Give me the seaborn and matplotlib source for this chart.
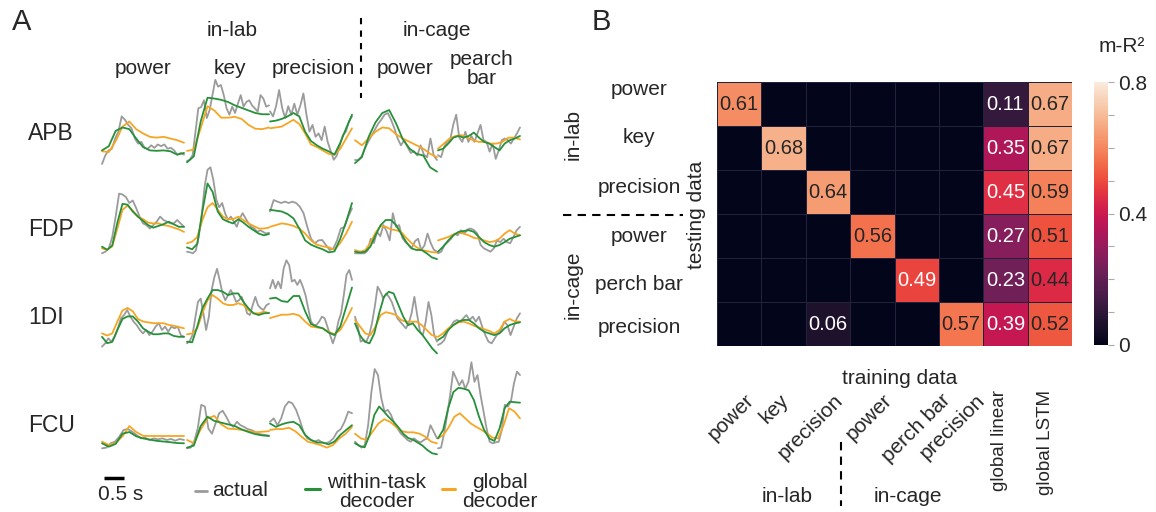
import matplotlib
matplotlib.use('Agg')
import matplotlib.pyplot as plt
from matplotlib.ticker import MultipleLocator
import numpy as np
import pandas as pd
import seaborn as sns

# Panel A: trazas normalizadas (0 = base de la fila, 1 = altura de la fila)
# orden de tareas: power, key, precision (in-lab), power, pearch bar (in-cage)
muscles = ['APB', 'FDP', '1DI', 'FCU']
tasks = ['power', 'key', 'precision', 'power', 'pearch\nbar']

apb_actual = [
    [0.0, 0.1, 0.16, 0.18, 0.3, 0.38, 0.56, 0.52, 0.46, 0.42, 0.3, 0.24, 0.26, 0.19, 0.18, 0.22, 0.19, 0.23, 0.21, 0.23, 0.18, 0.19, 0.16, 0.11, 0.13, 0.11],
    [0.035, 0.05, 0.105, 0.38, 0.655, 0.67, 0.75, 0.54, 0.635, 0.81, 0.99, 0.91, 0.93, 0.81, 0.655, 0.58, 0.675, 0.6, 0.71, 0.81, 0.675, 0.73, 0.75, 0.69, 0.655, 0.616, 0.81, 0.77, 0.675, 0.69],
    [0.62, 0.56, 0.68, 0.87, 0.66, 0.54, 0.68, 0.58, 0.71, 0.58, 0.69, 0.83, 0.58, 0.38, 0.46, 0.32, 0.36, 0.28, 0.44, 0.26, 0.15, 0.05, 0.1, 0.22, 0.34, 0.38, 0.5, 0.56],
    [0.047, 0.047, 0.09, 0.18, 0.26, 0.33, 0.4, 0.47, 0.52, 0.58, 0.6, 0.52, 0.42, 0.3, 0.22, 0.28, 0.2, 0.13, 0.15, 0.1, 0.22, 0.11, 0.08, 0.3, 0.1, 0.047],
    [0.105, 0.08, 0.2, 0.26, 0.28, 0.46, 0.58, 0.31, 0.26, 0.38, 0.26, 0.33, 0.26, 0.36, 0.46, 0.28, 0.26, 0.145, 0.24, 0.06, 0.16, 0.28, 0.3, 0.28, 0.24, 0.3, 0.36, 0.43],
]
apb_within = [
    [0.16, 0.21, 0.39, 0.43, 0.41, 0.3, 0.2, 0.16, 0.155, 0.16, 0.15, 0.11, 0.13],
    [0.02, 0.09, 0.5, 0.78, 0.77, 0.755, 0.73, 0.69, 0.66, 0.63, 0.6, 0.585, 0.585],
    [0.5, 0.51, 0.53, 0.56, 0.6, 0.56, 0.38, 0.27, 0.22, 0.18, 0.15, 0.11, 0.25, 0.42, 0.58],
    [0.01, 0.08, 0.32, 0.49, 0.6, 0.635, 0.48, 0.29, 0.18, 0.12, 0.1, -0.04, -0.09],
    [0.16, 0.18, 0.24, 0.31, 0.33, 0.31, 0.33, 0.37, 0.31, 0.26, 0.24, 0.2, 0.16, 0.24, 0.28, 0.3, 0.33],
]
apb_global = [
    [0.15, 0.14, 0.27, 0.44, 0.5, 0.41, 0.36, 0.32, 0.31, 0.32, 0.3, 0.28, 0.25],
    [0.154, 0.17, 0.42, 0.68, 0.63, 0.545, 0.545, 0.555, 0.53, 0.46, 0.415, 0.41, 0.43],
    [0.42, 0.43, 0.44, 0.48, 0.52, 0.47, 0.36, 0.23, 0.2, 0.16, 0.12, 0.11, 0.18, 0.3, 0.42],
    [0.28, 0.22, 0.3, 0.38, 0.43, 0.42, 0.35, 0.3, 0.26, 0.22, 0.18, 0.12, 0.08],
    [0.18, 0.24, 0.3, 0.33, 0.34, 0.31, 0.28, 0.26, 0.26, 0.24, 0.24, 0.26, 0.31, 0.31, 0.29],
]

fdp_actual = [
    [0.008, 0.027, 0.066, 0.2, 0.44, 0.71, 0.7, 0.67, 0.6, 0.63, 0.54, 0.44, 0.36, 0.34, 0.3, 0.34, 0.38, 0.44, 0.4, 0.38, 0.36, 0.36, 0.4, 0.36, 0.32],
    [0.027, 0.02, 0.008, 0.04, 0.2, 0.45, 0.79, 0.99, 1.02, 0.87, 0.64, 0.55, 0.6, 0.48, 0.4, 0.44, 0.38, 0.32, 0.42, 0.48, 0.42, 0.36, 0.32, 0.3, 0.26, 0.28, 0.26, 0.24, 0.25],
    [0.5, 0.635, 0.616, 0.6, 0.616, 0.6, 0.616, 0.6, 0.557, 0.48, 0.32, 0.18, 0.126, 0.16, 0.165, 0.106, 0.047, 0.066, 0.16, 0.3, 0.32, 0.44, 0.537],
    [0.008, 0.008, 0.008, 0.008, 0.04, 0.18, 0.13, 0.26, 0.21, 0.34, 0.27, 0.16, 0.48, 0.32, 0.34, 0.19, 0.14, 0.106, 0.07, 0.15, 0.18, 0.047, 0.1, 0.24, 0.13, 0.05, 0.027],
    [0.008, 0.027, 0.106, 0.14, 0.18, 0.24, 0.22, 0.28, 0.24, 0.29, 0.3, 0.28, 0.24, 0.106, 0.066, 0.047, 0.027, 0.066, 0.16, 0.14, 0.18, 0.14, 0.126, 0.2, 0.28, 0.32],
]
fdp_within = [
    [0.086, 0.05, 0.1, 0.37, 0.59, 0.58, 0.5, 0.44, 0.39, 0.34, 0.31, 0.33, 0.35, 0.38, 0.35, 0.32, 0.32],
    [0.078, 0.055, 0.12, 0.5, 0.83, 0.73, 0.5, 0.41, 0.38, 0.36, 0.41, 0.37, 0.32, 0.28, 0.24, 0.22, 0.235],
    [0.52, 0.51, 0.5, 0.47, 0.42, 0.3, 0.16, 0.11, 0.08, 0.055, 0.02, 0.03, 0.18, 0.38, 0.6],
    [0.027, 0.016, 0.027, 0.086, 0.22, 0.34, 0.4, 0.4, 0.34, 0.24, 0.14, 0.066, 0.047, 0.047, 0.008, -0.04, -0.06],
    [0.027, 0.086, 0.16, 0.22, 0.26, 0.27, 0.28, 0.26, 0.2, 0.14, 0.106, 0.086, 0.106, 0.14, 0.18, 0.2, 0.22],
]
fdp_global = [
    [0.066, 0.05, 0.09, 0.3, 0.52, 0.57, 0.51, 0.44, 0.41, 0.37, 0.36, 0.36, 0.34, 0.33, 0.31, 0.29, 0.26],
    [0.126, 0.145, 0.2, 0.4, 0.55, 0.6, 0.52, 0.44, 0.41, 0.41, 0.44, 0.4, 0.36, 0.33, 0.3, 0.3, 0.31],
    [0.32, 0.34, 0.36, 0.35, 0.33, 0.3, 0.24, 0.16, 0.11, 0.09, 0.08, 0.05, 0.13, 0.24, 0.38],
    [0.047, 0.027, 0.045, 0.13, 0.25, 0.33, 0.32, 0.29, 0.28, 0.26, 0.19, 0.13, 0.08, 0.047, 0.035, 0.022, 0.016],
    [0.16, 0.18, 0.2, 0.23, 0.25, 0.24, 0.22, 0.19, 0.18, 0.16, 0.14, 0.15, 0.18, 0.24, 0.28, 0.24, 0.22],
]

di_actual = [
    [0.004, 0.043, 0.102, 0.063, 0.12, 0.22, 0.337, 0.376, 0.435, 0.357, 0.298, 0.258, 0.2, 0.16, 0.2, 0.14, 0.18, 0.24, 0.28, 0.2, 0.24, 0.18, 0.24, 0.22, 0.24, 0.14, 0.12],
    [0.043, 0.07, 0.14, 0.337, 0.53, 0.57, 0.396, 0.2, 0.357, 0.67, 0.82, 0.92, 0.78, 0.63, 0.55, 0.61, 0.67, 0.61, 0.53, 0.55, 0.59, 0.51, 0.396, 0.376, 0.49, 0.59, 0.49, 0.455, 0.435, 0.49, 0.51],
    [0.69, 0.79, 0.69, 0.77, 0.69, 0.925, 1.02, 0.965, 0.77, 0.79, 0.73, 0.79, 0.71, 0.61, 0.45, 0.3, 0.26, 0.26, 0.3, 0.357, 0.337, 0.24, 0.14, 0.043, 0.14, 0.298, 0.396, 0.61, 0.85, 0.906, 0.79],
    [0.357, 0.24, 0.063, 0.082, 0.063, 0.14, 0.278, 0.475, 0.71, 0.65, 0.57, 0.63, 0.59, 0.53, 0.435, 0.337, 0.298, 0.258, 0.22, 0.278, 0.396, 0.59, 0.376, 0.18, 0.14, 0.298, 0.53, 0.376, 0.14, 0.063],
    [0.024, 0.043, 0.082, 0.18, 0.24, 0.298, 0.318, 0.298, 0.337, 0.376, 0.318, 0.357, 0.298, 0.357, 0.24, 0.14, 0.063, 0.043, 0.102, 0.16, 0.2, 0.298, 0.258, 0.14, 0.24, 0.337, 0.396],
]
di_within = [
    [0.12, 0.045, 0.06, 0.2, 0.33, 0.36, 0.36, 0.3, 0.22, 0.18, 0.15, 0.15, 0.16, 0.16, 0.13, 0.12, 0.12],
    [0.063, 0.055, 0.24, 0.455, 0.57, 0.67, 0.67, 0.65, 0.61, 0.63, 0.63, 0.53, 0.455, 0.396, 0.376, 0.396, 0.4],
    [0.57, 0.58, 0.54, 0.53, 0.6, 0.6, 0.42, 0.27, 0.24, 0.22, 0.17, 0.14, 0.24, 0.47, 0.7],
    [0.278, 0.14, 0.063, 0.043, 0.16, 0.396, 0.59, 0.65, 0.63, 0.494, 0.357, 0.258, 0.278, 0.2, 0.14, 0.063, -0.016, -0.075],
    [0.082, 0.12, 0.2, 0.258, 0.298, 0.318, 0.318, 0.278, 0.22, 0.18, 0.16, 0.14, 0.16, 0.22, 0.258, 0.278, 0.29],
]
di_global = [
    [0.16, 0.135, 0.16, 0.3, 0.43, 0.46, 0.42, 0.33, 0.3, 0.29, 0.28, 0.28, 0.28, 0.26, 0.25, 0.235, 0.22],
    [0.149, 0.16, 0.22, 0.396, 0.55, 0.61, 0.57, 0.514, 0.494, 0.494, 0.514, 0.494, 0.435, 0.396, 0.396, 0.416, 0.4],
    [0.34, 0.36, 0.38, 0.38, 0.39, 0.37, 0.3, 0.24, 0.23, 0.22, 0.18, 0.15, 0.2, 0.32, 0.46],
    [0.318, 0.24, 0.16, 0.14, 0.24, 0.376, 0.41, 0.396, 0.376, 0.318, 0.298, 0.298, 0.298, 0.258, 0.2, 0.14, 0.12],
    [0.12, 0.16, 0.22, 0.258, 0.29, 0.298, 0.278, 0.25, 0.23, 0.21, 0.19, 0.16, 0.2, 0.298, 0.33, 0.3, 0.298],
]

fcu_actual = [
    [0.008, 0.016, 0.067, 0.086, 0.145, 0.224, 0.235, 0.204, 0.165, 0.125, 0.133, 0.106, 0.125, 0.114, 0.125, 0.106, 0.118, 0.098, 0.118, 0.106],
    [0.008, 0.016, 0.086, 0.24, 0.52, 0.5, 0.24, 0.18, 0.3, 0.42, 0.45, 0.38, 0.3, 0.26, 0.32, 0.28, 0.26, 0.235, 0.224, 0.204, 0.18, 0.17, 0.165, 0.157],
    [0.32, 0.36, 0.28, 0.36, 0.5, 0.557, 0.537, 0.46, 0.34, 0.2, 0.125, 0.106, 0.086, 0.106, 0.078, 0.067, 0.086, 0.125, 0.2, 0.235, 0.32, 0.44, 0.42],
    [0.086, 0.047, 0.016, 0.047, 0.28, 0.67, 0.94, 0.87, 0.6, 0.44, 0.46, 0.4, 0.3, 0.24, 0.18, 0.145, 0.106, 0.086, 0.125, 0.094, 0.078, 0.106, 0.125, 0.28, 0.204, 0.125],
    [0.008, 0.016, 0.18, 0.4, 0.635, 0.91, 0.83, 0.75, 0.81, 0.71, 0.79, 1.02, 0.79, 0.87, 0.635, 0.44, 0.24, 0.086, 0.067, 0.078, 0.086, 0.224, 0.52, 0.5, 0.557, 0.77, 0.91, 0.87],
]
fcu_within = [
    [0.067, 0.027, 0.06, 0.18, 0.2, 0.15, 0.125, 0.11, 0.096, 0.088, 0.08, 0.07, 0.067],
    [0.016, 0.04, 0.27, 0.38, 0.33, 0.31, 0.29, 0.27, 0.23, 0.2, 0.175, 0.16, 0.153],
    [0.3, 0.26, 0.29, 0.31, 0.32, 0.28, 0.165, 0.106, 0.078, 0.075, 0.055, 0.086, 0.165, 0.224, 0.28],
    [0.067, 0.035, 0.02, 0.16, 0.4, 0.5, 0.44, 0.375, 0.32, 0.255, 0.18, 0.13, 0.11, 0.075, 0.04, -0.012, -0.05, -0.063],
    [0.125, 0.224, 0.48, 0.67, 0.72, 0.71, 0.69, 0.576, 0.38, 0.224, 0.125, 0.094, 0.24, 0.48, 0.557, 0.55, 0.545],
]
fcu_global = [
    [0.086, 0.047, 0.07, 0.15, 0.27, 0.2, 0.155, 0.153, 0.153, 0.153, 0.153, 0.153, 0.153],
    [0.106, 0.07, 0.23, 0.36, 0.39, 0.29, 0.24, 0.235, 0.226, 0.21, 0.198, 0.203, 0.21],
    [0.224, 0.235, 0.235, 0.25, 0.21, 0.145, 0.086, 0.067, 0.047, 0.016, 0.047, 0.125, 0.18, 0.26],
    [0.18, 0.125, 0.106, 0.204, 0.3, 0.35, 0.32, 0.26, 0.21, 0.196, 0.196, 0.18, 0.145, 0.086, 0.067],
    [0.125, 0.165, 0.26, 0.38, 0.42, 0.36, 0.3, 0.26, 0.224, 0.18, 0.133, 0.125, 0.28, 0.48, 0.44, 0.36],
]

# Panel B: m-R2 (filas = testing data, columnas = training data)
test_labels = ['power', 'key', 'precision', 'power', 'perch bar', 'precision']
train_labels = ['power', 'key', 'precision', 'power', 'perch bar', 'precision',
                'global linear', 'global LSTM']
mr2 = [
    [0.61, 0, 0, 0, 0, 0, 0.11, 0.67],
    [0, 0.68, 0, 0, 0, 0, 0.35, 0.67],
    [0, 0, 0.64, 0, 0, 0, 0.45, 0.59],
    [0, 0, 0, 0.56, 0, 0, 0.27, 0.51],
    [0, 0, 0, 0, 0.49, 0, 0.23, 0.44],
    [0, 0, 0.06, 0, 0, 0.57, 0.39, 0.52],
]

# Estilo
sns.set_theme(style='white')
plt.rcParams['font.family'] = ['Liberation Sans', 'DejaVu Sans']
FS = 15
C_ACT, C_WIT, C_GLO = '#9b9b9b', '#27903a', '#f6a623'

W, H = 1156, 512
fig = plt.figure(figsize=(W / 100, H / 100), dpi=100)

# eje de fondo en pixeles para el panel A y los textos
ax = fig.add_axes([0, 0, 1, 1])

SEG_X = [102, 187, 270, 355, 438]
SEG_W = 82
ROW_BASE = [164, 254, 347, 449]
ROW_H = 85

frames = []
per_muscle = [(apb_actual, apb_within, apb_global), (fdp_actual, fdp_within, fdp_global),
              (di_actual, di_within, di_global), (fcu_actual, fcu_within, fcu_global)]
for m, (act, wit, glo) in enumerate(per_muscle):
    for name, segs in [('actual', act), ('global', glo), ('within', wit)]:
        for k, vals in enumerate(segs):
            v = np.asarray(vals)
            frames.append(pd.DataFrame({
                'x': SEG_X[k] + np.linspace(0, SEG_W, len(v)),
                'y': ROW_BASE[m] - v * ROW_H,
                'serie': name,
                'traza': f'{m}-{k}',
            }))
df = pd.concat(frames, ignore_index=True)

sns.lineplot(data=df, x='x', y='y', hue='serie', units='traza', estimator=None, sort=False,
             hue_order=['actual', 'global', 'within'],
             palette={'actual': C_ACT, 'global': C_GLO, 'within': C_WIT},
             linewidth=1.3, legend=False, ax=ax)
ax.set_xlim(0, W)
ax.set_ylim(H, 0)
ax.axis('off')

# textos del panel A
ax.text(12, 22, 'A', fontsize=21, ha='left', va='center')
ax.text(232, 30, 'in-lab', fontsize=FS, ha='center', va='center')
ax.text(437, 30, 'in-cage', fontsize=FS, ha='center', va='center')
task_x = [143, 230, 313, 405, 482]
for tx, lab in zip(task_x, tasks):
    ax.text(tx, 69, lab, fontsize=FS, ha='center', va='center', linespacing=0.95)
ax.plot([361, 361], [18, 98], color='black', lw=1.5, ls=(0, (3, 3)))
label_y = [134, 230, 318, 426]
for ly, mus in zip(label_y, muscles):
    ax.text(28, ly, mus, fontsize=16.5, ha='left', va='center')

# barra de escala y leyenda
ax.plot([104, 124], [478, 478], color='black', lw=2.5, solid_capstyle='butt')
ax.text(121, 494, '0.5 s', fontsize=FS, ha='center', va='center')
ax.plot([195, 207], [491, 491], color=C_ACT, lw=2)
ax.text(212, 491, 'actual', fontsize=FS, ha='left', va='center')
ax.plot([305, 320], [489, 489], color=C_WIT, lw=2.2)
ax.text(377, 492, 'within-task\ndecoder', fontsize=FS, ha='center', va='center', linespacing=0.95)
ax.plot([442, 455], [489, 489], color=C_GLO, lw=2.2)
ax.text(500, 492, 'global\ndecoder', fontsize=FS, ha='center', va='center', linespacing=0.95)

# textos del panel B
ax.text(592, 22, 'B', fontsize=21, ha='left', va='center')
ax.text(573, 135, 'in-lab', fontsize=FS, rotation=90, ha='center', va='center')
ax.text(573, 285, 'in-cage', fontsize=FS, rotation=90, ha='center', va='center')
ax.plot([563, 683], [215, 215], color='black', lw=1.5, ls=(0, (4, 3)))
ax.text(697, 215, 'testing data', fontsize=FS, rotation=90, ha='center', va='center')
ax.text(900, 378, 'training data', fontsize=FS, ha='center', va='center')
ax.text(787, 496, 'in-lab', fontsize=FS, ha='center', va='center')
ax.text(908, 496, 'in-cage', fontsize=FS, ha='center', va='center')
ax.plot([841, 841], [442, 506], color='black', lw=1.5, ls=(0, (4, 3)))
ax.text(1122, 46, 'm-R²', fontsize=FS, ha='center', va='center')

# heatmap
axh = fig.add_axes([717 / W, 1 - 346 / H, 355 / W, 264 / H])
cax = fig.add_axes([1094 / W, 1 - 345 / H, 14 / W, 263 / H])
mat = np.array(mr2)
annot = np.where(mat > 0, np.char.mod('%.2f', mat), '')
sns.heatmap(mat, ax=axh, cbar_ax=cax, cmap='rocket', vmin=0, vmax=0.8,
            annot=annot, fmt='', annot_kws={'fontsize': 14.5},
            linewidths=0.4, linecolor='#22223a',
            xticklabels=train_labels, yticklabels=test_labels)

for t in axh.texts:
    x, y = t.get_position()
    c, r = int(x), int(y)
    t.set_color('#262626' if (c == 7 or mat[r, c] >= 0.5) else 'white')

# posiciones de las etiquetas como en la figura original (algo separadas)
axh.set_yticks([0.16, 1.27, 2.39, 3.52, 4.61, 5.57], test_labels)
axh.set_xticks([0.62, 1.4, 2.62, 3.72, 5.05, 5.83, 6.37, 7.41], train_labels)

axh.tick_params(axis='both', length=0, labelsize=FS)
axh.tick_params(axis='y', pad=56)
axh.tick_params(axis='x', pad=32)
for lab in axh.get_yticklabels():
    lab.set_rotation(0)
    lab.set_ha('center')
for i, lab in enumerate(axh.get_xticklabels()):
    if i < 6:
        lab.set_rotation(45)
        lab.set_ha('right')
        lab.set_va('top')
        lab.set_rotation_mode('anchor')
    else:
        lab.set_rotation(90)
        lab.set_ha('center')
        lab.set_va('top')
        lab.set_fontsize(13.5)

cbar = axh.collections[0].colorbar
cbar.set_ticks([0, 0.4, 0.8])
cbar.set_ticklabels(['0', '0.4', '0.8'])
cbar.outline.set_visible(False)
cax.yaxis.set_minor_locator(MultipleLocator(0.1))
cax.tick_params(which='both', length=4, width=0.8, color='#aaaaaa', labelsize=FS, pad=3)

fig.savefig('out.png', dpi=100)
